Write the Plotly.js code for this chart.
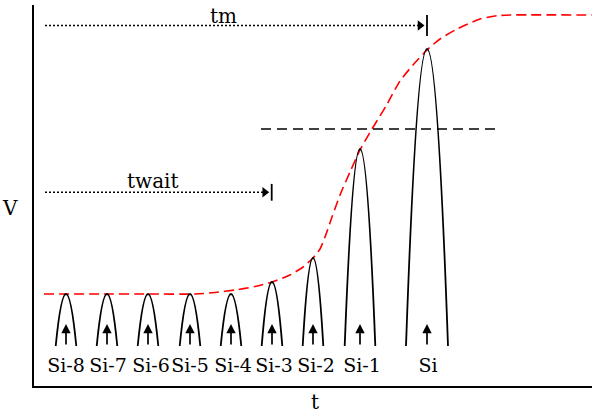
<!DOCTYPE html>
<html><head><meta charset="utf-8">
<script src="https://cdn.plot.ly/plotly-3.0.1.min.js"></script>
<style>html,body{margin:0;padding:0;background:#fff}#c{width:594px;height:414px}</style>
</head><body><div id="c"></div>
<script>
// Sample labels
const labels = ['Si-8','Si-7','Si-6','Si-5','Si-4','Si-3','Si-2','Si-1','Si'];
// Sample times (arch centre) and peak values
const peakT = [32, 73, 114, 156, 197, 238, 279, 326, 393];
const peakV = [92, 92, 92, 92, 92, 104, 128, 237, 337];
const halfW = [10.3, 10.3, 10.3, 10.3, 10.3, 10.3, 10.3, 15.3, 21];
const baseV = 40;
const arrowTipV = 62;
const labelT = [32, 74, 117, 156, 199, 240, 282, 328, 394];
const labelV = 19;
// Red dashed envelope curve
const redT = [10,66,116,161,181,201,221,238,256,269,279,286,291,298,306,316,326,338,352,366,379,394,406,423,446,463,476,558];
const redV = [92,92,92,92,93.5,96,99.5,104,111,119,128,137,149,169,191,214,236,257,280,305,321,337,347,357,367,370.3,371,371];
// Threshold dashed line
const thrT = [227, 461];
const thrV = 257;
// Timing markers
const tmStart = 11, tmEnd = 393, tmV = 360.5;
const twStart = 11, twEnd = 237.7, twV = 193.7;

const FONT = 'DejaVu Serif';
const traces = [];
const shapes = [];
const annotations = [];

for (let i = 0; i < peakT.length; i++) {
  const x0 = peakT[i] - halfW[i], x1 = peakT[i] + halfW[i];
  const cy = 2 * peakV[i] - baseV;
  shapes.push({type:'path', xref:'x', yref:'y',
    path:`M ${x0},${baseV} Q ${peakT[i]},${cy} ${x1},${baseV}`,
    line:{color:'black', width:1.8}});
  annotations.push({x:peakT[i], y:arrowTipV, ax:peakT[i], ay:baseV, xref:'x', yref:'y',
    axref:'x', ayref:'y', text:'', showarrow:true, arrowhead:2, arrowsize:1.1,
    arrowwidth:1.7, arrowcolor:'black', standoff:0, startstandoff:0});
}

traces.push({x:redT, y:redV, mode:'lines', line:{color:'red', width:1.6, dash:'10px,5px', shape:'spline', smoothing:0.6}, hoverinfo:'skip'});
traces.push({x:thrT, y:[thrV, thrV], mode:'lines', line:{color:'black', width:1.6, dash:'10px,6px'}, hoverinfo:'skip'});
traces.push({x:labelT, y:labels.map(()=>labelV), mode:'text', text:labels,
  textfont:{family:FONT, size:19, color:'black'}, textposition:'middle center', cliponaxis:false, hoverinfo:'skip'});

function timing(x0, x1, y, barHalf) {
  traces.push({x:[x0, x1-4], y:[y, y], mode:'lines', line:{color:'black', width:1.5, dash:'2px,2px'}, hoverinfo:'skip'});
  traces.push({x:[x1-7], y:[y], mode:'markers', marker:{symbol:'triangle-right', size:9, color:'black'}, hoverinfo:'skip'});
  traces.push({x:[x1, x1], y:[y-barHalf, y+barHalf], mode:'lines', line:{color:'black', width:1.8}, hoverinfo:'skip'});
}
timing(tmStart, tmEnd, tmV, 10.5);
timing(twStart, twEnd, twV, 8.4);

const tf = {family:FONT, size:20, color:'black'};
annotations.push({x:189, y:370, xref:'x', yref:'y', text:'tm', showarrow:false, xanchor:'center', yanchor:'middle', font:tf});
annotations.push({x:119, y:205, xref:'x', yref:'y', text:'twait', showarrow:false, xanchor:'center', yanchor:'middle', font:tf});
annotations.push({x:-0.043, y:0.467, xref:'paper', yref:'paper', text:'V', showarrow:false, xanchor:'center', yanchor:'middle', font:tf});
annotations.push({x:0.5027, y:-0.042, xref:'paper', yref:'paper', text:'t', showarrow:false, xanchor:'center', yanchor:'middle', font:tf});

const layout = {
  width:594, height:414,
  margin:{l:34, r:2, t:5, b:28},
  paper_bgcolor:'white', plot_bgcolor:'white',
  showlegend:false,
  font:tf,
  xaxis:{range:[0,558], showgrid:false, zeroline:false, showticklabels:false, ticks:'', showline:true, linecolor:'black', linewidth:2, fixedrange:true},
  yaxis:{range:[0,381], showgrid:false, zeroline:false, showticklabels:false, ticks:'', showline:true, linecolor:'black', linewidth:2, fixedrange:true},
  shapes, annotations
};
Plotly.newPlot('c', traces, layout, {displayModeBar:false, staticPlot:true});
</script></body></html>
